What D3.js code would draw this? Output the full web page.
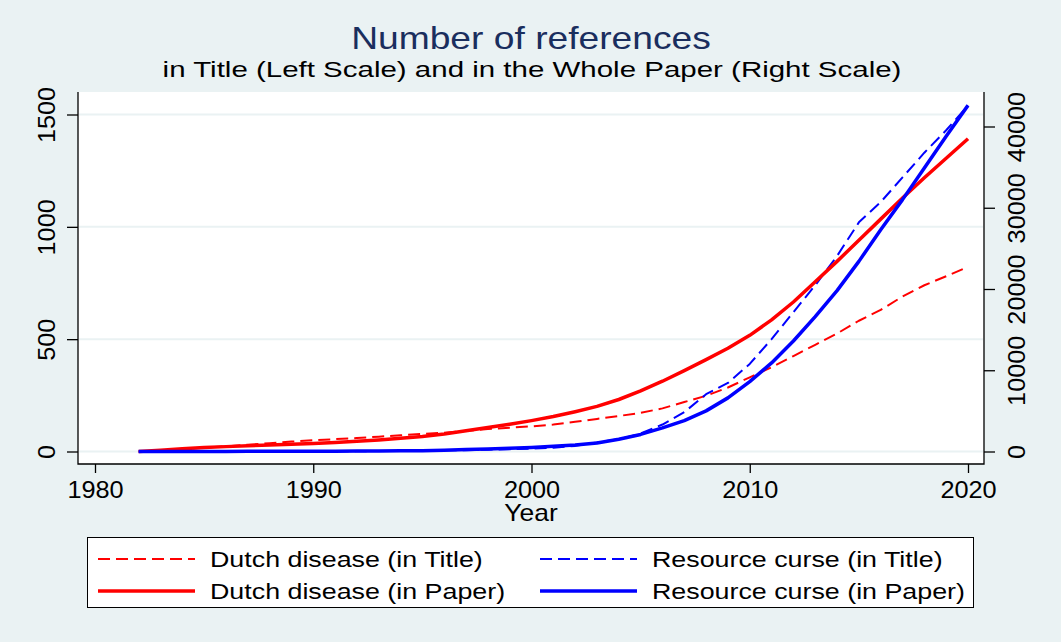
<!DOCTYPE html>
<html>
<head>
<meta charset="utf-8">
<script src="https://cdn.jsdelivr.net/npm/d3@7/dist/d3.min.js"></script>
<style>
  body { margin: 0; background: #eaf2f3; }
  svg { display: block; }
  text { font-family: "Liberation Sans", Arial, sans-serif; }
</style>
</head>
<body>
<svg id="chart" width="1061" height="642"></svg>
<script>
// years 1982..2020
var years = d3.range(1982, 2021);

// left scale: references in title
var dutchTitle = [0, 4, 10, 17, 23, 30, 37, 44, 50, 55, 60, 66, 72, 78, 84, 92, 100, 106, 112, 120,
    132, 145, 158, 172, 192, 220, 248, 285, 330, 375, 425, 475, 525, 582, 630, 690, 740, 780, 822];
var curseTitle = [0, 0, 0, 0, 0, 0, 0, 0, 0, 1, 1, 2, 3, 4, 5, 6, 8, 10, 13, 17,
    25, 40, 55, 80, 120, 175, 255, 305, 390, 500, 620, 740, 870, 1020, 1110, 1220, 1330, 1430, 1540];

// right scale: references in whole paper
var dutchPaper = [0, 150, 350, 500, 600, 700, 800, 880, 980, 1100, 1250, 1420, 1620, 1850, 2150, 2550,
    2950, 3350, 3800, 4300, 4900, 5550, 6400, 7450, 8650, 9950, 11300, 12700, 14300, 16200, 18400,
    20900, 23400, 26000, 28600, 31200, 33700, 36100, 38500];
var cursePaper = [0, 0, 5, 10, 15, 20, 22, 25, 30, 40, 50, 65, 80, 100, 150, 250, 320, 400, 500, 650,
    800, 1050, 1500, 2100, 2900, 3800, 5000, 6600, 8600, 10900, 13600, 16600, 19800, 23400, 27300,
    31000, 34900, 38800, 42600];

var xTicks = [1980, 1990, 2000, 2010, 2020],
    leftTicks = [0, 500, 1000, 1500],
    rightTicks = [0, 10000, 20000, 30000, 40000];

var title = "Number of references",
    subtitle = "in Title (Left Scale) and in the Whole Paper (Right Scale)",
    xLabel = "Year";

var svg = d3.select("#chart");

var pLeft = 78, pRight = 984, pTop = 92, pBottom = 464;

var x = d3.scaleLinear().domain([1980, 2020]).range([95, 968]),
    yL = d3.scaleLinear().domain([0, 1500]).range([451.5, 114.5]),
    yR = d3.scaleLinear().domain([0, 40000]).range([451.5, 126.5]);

// stretched text, Stata fonts come out wide
function label(g, txt, px, py, size, sx, anchor, rot) {
    return g.append("text")
        .attr("transform", "translate(" + px + "," + py + ")" + (rot ? " rotate(" + rot + ")" : "") + " scale(" + sx + ",1)")
        .attr("text-anchor", anchor || "middle")
        .attr("fill", "#000")
        .style("font-size", size + "px")
        .text(txt);
}

svg.append("rect")
    .attr("width", 1061).attr("height", 642)
    .attr("fill", "#eaf2f3");

svg.append("rect")
    .attr("x", pLeft).attr("y", pTop)
    .attr("width", pRight - pLeft).attr("height", pBottom - pTop)
    .attr("fill", "#fff");

// grid
svg.append("g").selectAll("line")
    .data(leftTicks)
    .enter().append("line")
    .attr("x1", pLeft + 1).attr("x2", pRight - 1)
    .attr("y1", function(d) { return yL(d); })
    .attr("y2", function(d) { return yL(d); })
    .attr("stroke", "#eaf2f3")
    .attr("stroke-width", 2);

// titles
label(svg, title, 531, 49, 31, 1.2).attr("fill", "#1a2e5e");
label(svg, subtitle, 532, 77, 22.5, 1.31);

// axes
var gx = svg.append("g")
    .attr("transform", "translate(0," + pBottom + ")")
    .call(d3.axisBottom(x).tickValues(xTicks).tickSize(9).tickSizeOuter(0));
gx.select(".domain").remove();
gx.selectAll("text").remove();
gx.selectAll(".tick").each(function(d) {
    label(d3.select(this), d, 0, 34, 23, 1.1);
});

var gl = svg.append("g")
    .attr("transform", "translate(" + pLeft + ",0)")
    .call(d3.axisLeft(yL).tickValues(leftTicks).tickSize(11).tickSizeOuter(0));
gl.select(".domain").remove();
gl.selectAll("text").remove();
gl.selectAll(".tick").each(function(d) {
    label(d3.select(this), d, -23, 0, 23, 1.1, "middle", -90);
});

var gr = svg.append("g")
    .attr("transform", "translate(" + pRight + ",0)")
    .call(d3.axisRight(yR).tickValues(rightTicks).tickSize(11).tickSizeOuter(0));
gr.select(".domain").remove();
gr.selectAll("text").remove();
gr.selectAll(".tick").each(function(d) {
    label(d3.select(this), d, 41, 0, 23, 1.1, "middle", -90);
});

svg.selectAll(".tick line").attr("stroke", "#000").attr("stroke-width", 1.3);

// axis lines
svg.append("path")
    .attr("d", "M" + pLeft + "," + pTop + "V" + pBottom + "H" + pRight + "V" + pTop)
    .attr("fill", "none")
    .attr("stroke", "#000")
    .attr("stroke-width", 1.3);

label(svg, xLabel, 531, 521, 23, 1.15);

// series
var series = [
    {name: "Dutch disease (in Title)", values: dutchTitle, scale: yL, color: "#ff0000", dash: "12,6", width: 2},
    {name: "Resource curse (in Title)", values: curseTitle, scale: yL, color: "#0000ff", dash: "12,6", width: 2},
    {name: "Dutch disease (in Paper)", values: dutchPaper, scale: yR, color: "#ff0000", dash: null, width: 3.5},
    {name: "Resource curse (in Paper)", values: cursePaper, scale: yR, color: "#0000ff", dash: null, width: 3.5}
];

series.forEach(function(s) {
    var line = d3.line()
        .x(function(d, i) { return x(years[i]); })
        .y(function(d) { return s.scale(d); });
    svg.append("path")
        .datum(s.values)
        .attr("d", line)
        .attr("fill", "none")
        .attr("stroke", s.color)
        .attr("stroke-width", s.width)
        .attr("stroke-dasharray", s.dash)
        .attr("stroke-linejoin", "round");
});

// legend
var lg = svg.append("g");
lg.append("rect")
    .attr("x", 87.5).attr("y", 537.5)
    .attr("width", 886).attr("height", 70)
    .attr("fill", "#fff")
    .attr("stroke", "#000")
    .attr("stroke-width", 1);

var legendPos = [
    {s: series[0], col: 0, row: 0},
    {s: series[1], col: 1, row: 0},
    {s: series[2], col: 0, row: 1},
    {s: series[3], col: 1, row: 1}
];
legendPos.forEach(function(p) {
    var lx = 98 + p.col * 442,
        ly = 559 + p.row * 32;
    lg.append("line")
        .attr("x1", lx).attr("x2", lx + 97)
        .attr("y1", ly).attr("y2", ly)
        .attr("stroke", p.s.color)
        .attr("stroke-width", p.s.width)
        .attr("stroke-dasharray", p.s.dash);
    label(lg, p.s.name, lx + 112, ly + 8, 22, 1.22, "start");
});
</script>
</body>
</html>
